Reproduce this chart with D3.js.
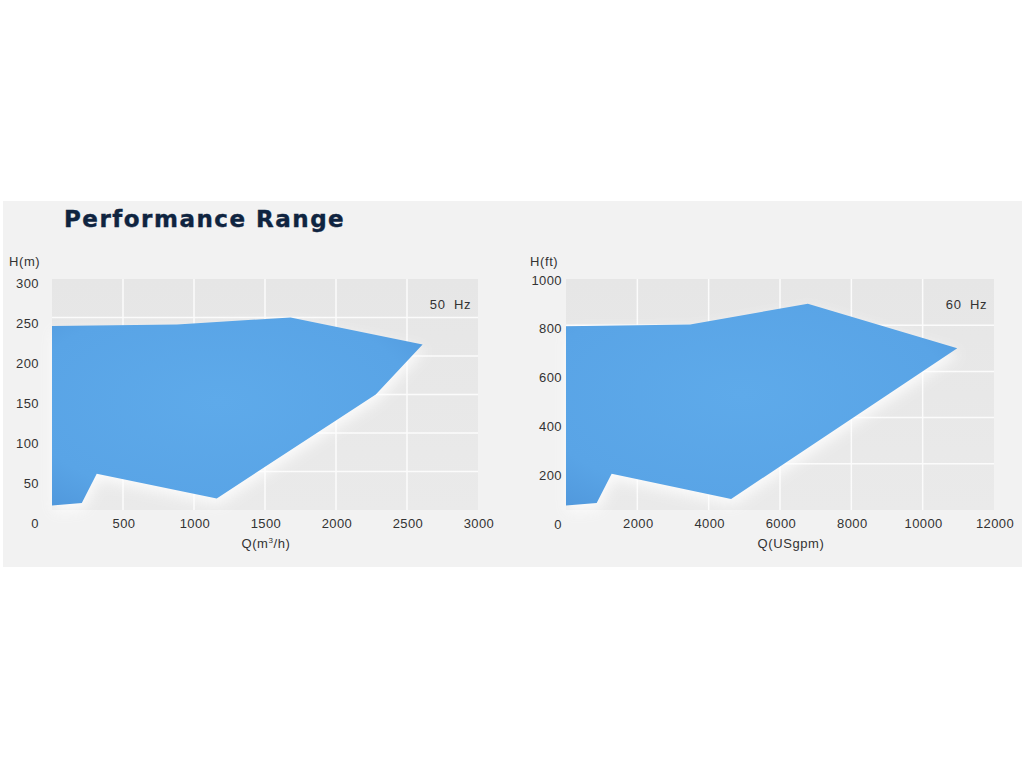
<!DOCTYPE html>
<html><head><meta charset="utf-8">
<script src="https://cdn.jsdelivr.net/npm/d3@7"></script>
<style>
html,body{margin:0;padding:0;background:#fff;}
svg{display:block;}
text{font-family:"Liberation Sans",Arial,sans-serif;fill:#333;}
</style></head>
<body>
<script>
// ---- data ----
const titleText = "Performance Range";
// 50 Hz envelope: Q (m3/h), H (m)
const q50 = [0, 880, 1680, 2610, 2280, 1160, 315, 210, 0];
const h50 = [239, 241, 250, 215, 150, 15, 47, 9, 6];
const xTicks50 = [500, 1000, 1500, 2000, 2500, 3000];
const yTicks50 = [0, 50, 100, 150, 200, 250, 300];
// 60 Hz envelope: Q (USgpm), H (ft)
const q60 = [0, 3480, 6780, 10970, 9080, 4630, 1280, 860, 0];
const h60 = [795, 803, 893, 700, 505, 48, 157, 30, 19];
const xTicks60 = [2000, 4000, 6000, 8000, 10000, 12000];
const yTicks60 = [0, 200, 400, 600, 800, 1000];

const W = 1024, H = 768;
const svg = d3.select("body").append("svg").attr("width", W).attr("height", H);
const defs = svg.append("defs");

const grad = defs.append("radialGradient").attr("id","fillGrad")
  .attr("cx","45%").attr("cy","45%").attr("r","70%");
grad.append("stop").attr("offset","0%").attr("stop-color","#5eaaea");
grad.append("stop").attr("offset","75%").attr("stop-color","#59a4e6");
grad.append("stop").attr("offset","100%").attr("stop-color","#5199dd");

const bgGrad = defs.append("linearGradient").attr("id","bgGrad")
  .attr("x1","0").attr("y1","0").attr("x2","0").attr("y2","1");
bgGrad.append("stop").attr("offset","0%").attr("stop-color","#e6e6e6");
bgGrad.append("stop").attr("offset","100%").attr("stop-color","#eaeaea");

const glow = defs.append("filter").attr("id","glow")
  .attr("x","-20%").attr("y","-20%").attr("width","140%").attr("height","150%");
glow.append("feGaussianBlur").attr("stdDeviation", 7);

// panel
svg.append("rect").attr("x",3).attr("y",201).attr("width",1019).attr("height",366)
  .attr("fill","#f2f2f2");

svg.append("text").attr("x",64).attr("y",227)
  .style("font-family","'DejaVu Sans',sans-serif").style("font-weight","bold")
  .style("font-size","23px").style("letter-spacing","1.5px")
  .style("fill","#0f2440").style("stroke","#0f2440").style("stroke-width","0.4px")
  .text(titleText);

function drawChart(cfg){
  const g = svg.append("g");
  const x = d3.scaleLinear().domain(cfg.xDomain).range([cfg.left, cfg.right]);
  const y = d3.scaleLinear().domain(cfg.yDomain).range([cfg.bottom, cfg.top]);
  const yl = d3.scaleLinear().domain(cfg.yDomain).range(cfg.labelRange);

  g.append("rect").attr("x",cfg.left).attr("y",cfg.top)
    .attr("width",cfg.right-cfg.left).attr("height",cfg.bottom-cfg.top)
    .attr("fill","url(#bgGrad)");

  // gridlines
  const gx = cfg.xTicks.filter(v => v < cfg.xDomain[1]);
  g.selectAll(".vg").data(gx).join("line")
    .attr("x1",d=>x(d)).attr("x2",d=>x(d)).attr("y1",cfg.top).attr("y2",cfg.bottom)
    .attr("stroke","#fbfbfb").attr("stroke-width",1.5);
  const gy = cfg.yTicks.filter(v => v > 0 && v < cfg.yDomain[1]);
  g.selectAll(".hg").data(gy).join("line")
    .attr("x1",cfg.left).attr("x2",cfg.right).attr("y1",d=>y(d)).attr("y2",d=>y(d))
    .attr("stroke","#fbfbfb").attr("stroke-width",1.5);

  const pts = cfg.q.map((q,i)=>[x(q), y(cfg.h[i])]);
  const line = d3.line().curve(d3.curveLinearClosed);
  // soft light halo
  g.append("path").attr("d", line(pts.map(p=>[p[0]+2,p[1]+6])))
    .attr("fill","#ffffff").attr("opacity",0.85).attr("filter","url(#glow)");
  g.append("path").attr("d", line(pts)).attr("fill","url(#fillGrad)");

  // x tick labels
  g.selectAll(".xt").data(cfg.xTicks).join("text")
    .attr("x",d=>x(d)+cfg.xLabelShift).attr("y",528).attr("text-anchor","middle")
    .style("font-size","13px").style("letter-spacing","0.4px").text(d=>d);
  // y tick labels
  g.selectAll(".yt").data(cfg.yTicks).join("text")
    .attr("x",cfg.yLabelRight).attr("y",d=>yl(d)+4.5).attr("text-anchor","end")
    .style("font-size","13px").style("letter-spacing","0.4px").text(d=>d);

  // axis titles
  g.append("text").attr("x",cfg.yTitleX).attr("y",266)
    .style("font-size","13px").style("letter-spacing","0.6px").text(cfg.yTitle);
  const xt = g.append("text").attr("x",cfg.xTitleX).attr("y",548).attr("text-anchor","middle")
    .style("font-size","13px").style("letter-spacing","0.6px");
  cfg.xTitle(xt);
  g.append("text").attr("x",cfg.right-7).attr("y",309).attr("text-anchor","end")
    .style("font-size","13px").style("letter-spacing","0.6px").style("white-space","pre")
    .text(cfg.hz);
}

drawChart({
  xDomain:[0,3000], yDomain:[0,300], left:52, right:478, top:279, bottom:510,
  labelRange:[523,283], q:q50, h:h50, xTicks:xTicks50, yTicks:yTicks50,
  xLabelShift:1, yLabelRight:39, yTitle:"H(m)", yTitleX:9, xTitleX:266, hz:"50  Hz",
  xTitle: t => { t.append("tspan").text("Q(m");
    t.append("tspan").attr("dy",-5).style("font-size","8px").text("3");
    t.append("tspan").attr("dy",5).text("/h)"); }
});
drawChart({
  xDomain:[0,12000], yDomain:[0,1000], left:566, right:994, top:279, bottom:510,
  labelRange:[524,280], q:q60, h:h60, xTicks:xTicks60, yTicks:yTicks60,
  xLabelShift:1, yLabelRight:562, yTitle:"H(ft)", yTitleX:530, xTitleX:791, hz:"60  Hz",
  xTitle: t => t.text("Q(USgpm)")
});
</script>
</body></html>
